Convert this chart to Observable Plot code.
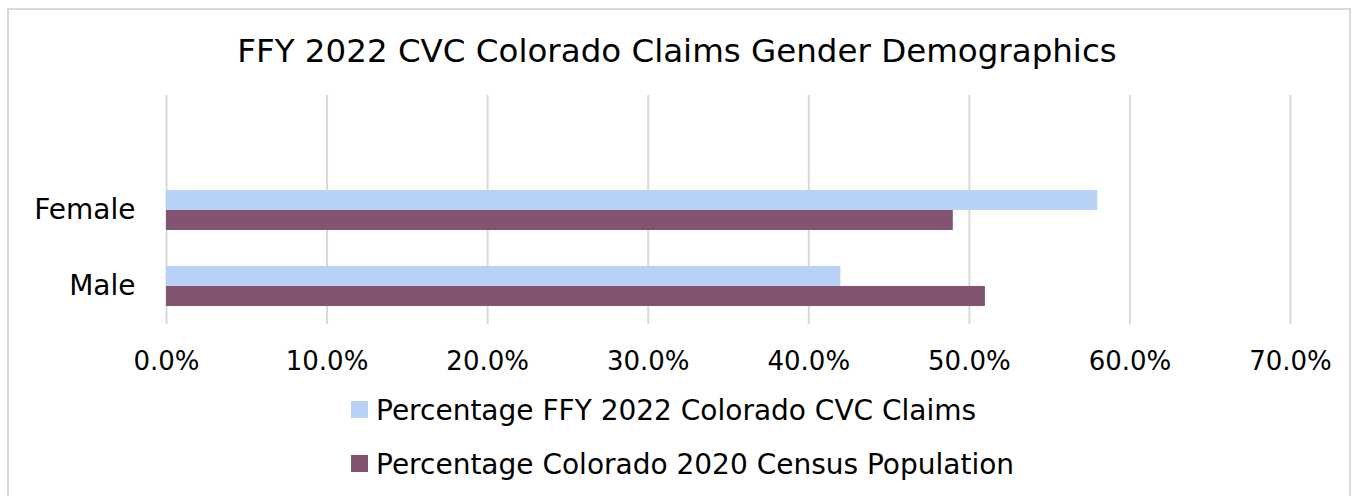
<!DOCTYPE html>
<html>
<head>
<meta charset="utf-8">
<script src="https://cdn.jsdelivr.net/npm/d3@7"></script>
<script src="https://cdn.jsdelivr.net/npm/@observablehq/plot@0.6"></script>
<style>
  body { margin: 0; background: #fff; font-family: "DejaVu Sans", sans-serif; }
  #wrap { position: relative; width: 1354px; height: 496px; overflow: hidden; background: #fff; }
  #frame { position: absolute; left: 7px; top: 8px; width: 1340px; height: 520px; border: 2px solid #d9d9d9; box-sizing: content-box; }
  #title { position: absolute; left: 0; width: 1354px; top: 32px; text-align: center; font-size: 32.5px; line-height: normal; color: #000; white-space: nowrap; }
  #chart { position: absolute; left: 0; top: 0; }
  .sw { position: absolute; left: 351px; width: 17px; height: 17px; }
  .lt { position: absolute; left: 376px; font-size: 28px; line-height: normal; color: #000; white-space: nowrap; }
</style>
</head>
<body>
<div id="wrap">
  <div id="frame"></div>
  <div id="title"></div>
  <div id="chart"></div>
  <div id="legend"></div>
</div>
<script>
// ---- data ----
const titleText = "FFY 2022 CVC Colorado Claims Gender Demographics";
const categorySlots = ["", "Female", "Male"];   // top slot is an empty category in the source chart
const genders = ["Female", "Male"];
const seriesNames = ["Percentage FFY 2022 Colorado CVC Claims", "Percentage Colorado 2020 Census Population"];
const claimsValues = [0.58, 0.42];
const censusValues = [0.49, 0.51];
const xTicks = [0, 0.1, 0.2, 0.3, 0.4, 0.5, 0.6, 0.7];
const seriesColors = ["#b8d2f7", "#825472"];

// ---- build rows ----
const claimsRows = genders.map((g, i) => ({gender: g, series: seriesNames[0], value: claimsValues[i]}));
const censusRows = genders.map((g, i) => ({gender: g, series: seriesNames[1], value: censusValues[i]}));

document.getElementById("title").textContent = titleText;

const chart = Plot.plot({
  width: 1354,
  height: 390,
  marginTop: 95,
  marginBottom: 66,
  marginLeft: 166,
  marginRight: 64,
  style: { fontFamily: "DejaVu Sans, sans-serif", fontSize: "26px", color: "#000", background: "transparent" },
  x: { domain: [0, 0.7], label: null },
  y: { domain: categorySlots, paddingInner: 0.4737, paddingOuter: 0.2368, align: 0.5, label: null },
  color: { domain: seriesNames, range: seriesColors },
  marks: [
    Plot.gridX(xTicks, { stroke: "#d9d9d9", strokeOpacity: 1, strokeWidth: 2 }),
    Plot.barX(claimsRows, { x: "value", y: "gender", fill: "series", insetBottom: 20 }),
    Plot.barX(censusRows, { x: "value", y: "gender", fill: "series", insetTop: 20 }),
    Plot.axisX({ ticks: xTicks, tickFormat: d3.format(".1%"), tickSize: 0, tickPadding: 27, fontSize: 26, label: null, fill: "#000" }),
    Plot.axisY({ tickSize: 0, tickPadding: 31, fontSize: 28, label: null, fill: "#000" })
  ]
});
document.getElementById("chart").appendChild(chart);

// ---- legend ----
const legend = document.getElementById("legend");
const swatchTops = [401, 455];
const textTops = [394, 448];
seriesNames.forEach((name, i) => {
  const sw = document.createElement("div");
  sw.className = "sw";
  sw.style.top = swatchTops[i] + "px";
  sw.style.background = seriesColors[i];
  legend.appendChild(sw);
  const t = document.createElement("div");
  t.className = "lt";
  t.style.top = textTops[i] + "px";
  t.textContent = name;
  legend.appendChild(t);
});
</script>
</body>
</html>
